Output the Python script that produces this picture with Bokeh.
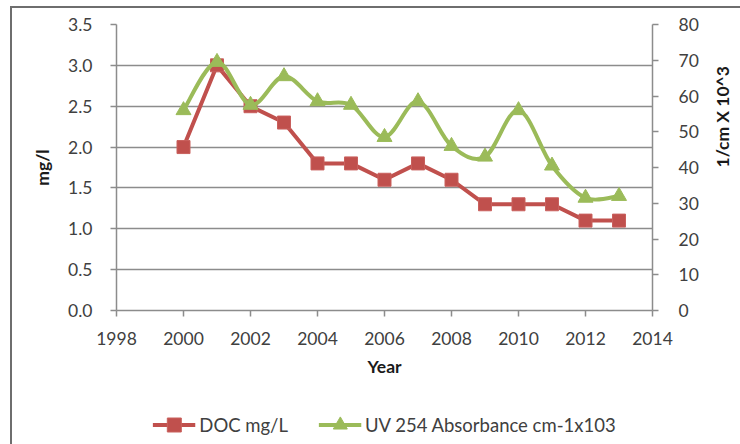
import math
from bokeh.plotting import figure
from bokeh.layouts import column
from bokeh.models import (Range1d, LinearAxis, SingleIntervalTicker, NumeralTickFormatter,
                          Legend, LegendItem)
from bokeh.embed import file_html
from bokeh.resources import INLINE

# ---- data ----
years = [2000, 2001, 2002, 2003, 2004, 2005, 2006, 2007, 2008, 2009, 2010, 2011, 2012, 2013]
doc_mg_l = [2.0, 3.0, 2.5, 2.3, 1.8, 1.8, 1.6, 1.8, 1.6, 1.3, 1.3, 1.3, 1.1, 1.1]
uv254 = [56.0, 69.5, 57.5, 65.5, 58.5, 57.5, 48.5, 58.5, 46.0, 43.0, 56.0, 40.5, 31.5, 32.0]

x_title = "Year"
left_title = "mg/l"
right_title = "1/cm X 10^3"
doc_label = "DOC mg/L"
uv_label = "UV 254 Absorbance cm-1x103"

RED = "#C0504D"
GREEN = "#9BBB59"
GRID = "#8c8c8c"
TXT = "#404040"
FONT = "Lato"
FS = "17.5px"
NAN = float("nan")

p = figure(frame_width=536, frame_height=286,
           min_border_left=104, min_border_right=88, min_border_top=16, min_border_bottom=80,
           x_range=Range1d(1998, 2014), y_range=Range1d(0, 3.5),
           output_backend="svg", toolbar_location=None,
           background_fill_color="white", border_fill_color="white",
           outline_line_color=None)

p.extra_y_ranges = {"uv": Range1d(0, 80)}

# axes
xt = SingleIntervalTicker(interval=2, num_minor_ticks=0)
yt = SingleIntervalTicker(interval=0.5, num_minor_ticks=0)
p.xaxis.ticker = xt
p.yaxis.ticker = yt
p.yaxis.formatter = NumeralTickFormatter(format="0.0")
p.xgrid.visible = False
p.ygrid.ticker = yt
p.ygrid.grid_line_color = GRID
p.ygrid.grid_line_width = 1.5

ax_r = LinearAxis(y_range_name="uv", ticker=SingleIntervalTicker(interval=10, num_minor_ticks=0),
                  formatter=NumeralTickFormatter(format="0"))
p.add_layout(ax_r, "right")

for ax in [p.xaxis[0], p.yaxis[0], ax_r]:
    ax.axis_line_color = GRID
    ax.axis_line_width = 1.5
    ax.major_tick_line_color = GRID
    ax.major_tick_line_width = 1.5
    ax.major_tick_out = 6
    ax.major_tick_in = 0
    ax.minor_tick_line_color = None
    ax.major_label_text_font = FONT
    ax.major_label_text_font_size = FS
    ax.major_label_text_color = TXT
    ax.axis_label_text_font = FONT
    ax.axis_label_text_font_size = FS
    ax.axis_label_text_font_style = "bold"
    ax.axis_label_text_color = "#1a1a1a"

p.xaxis[0].axis_label = x_title
p.xaxis[0].major_label_standoff = 15
p.xaxis[0].axis_label_standoff = 8
p.yaxis[0].axis_label = left_title
p.yaxis[0].major_label_standoff = 18
p.yaxis[0].axis_label_standoff = 12
ax_r.major_label_standoff = 20
ax_r.axis_label = right_title
ax_r.axis_label_standoff = 21
if hasattr(ax_r, "axis_label_orientation"):
    ax_r.axis_label_orientation = math.pi / 2

# DOC series (straight lines)
p.line(years, doc_mg_l, line_color=RED, line_width=4, line_join="round")
p.scatter(years, doc_mg_l, marker="square", size=13, fill_color=RED,
          line_color="#c9605d", line_width=1)

# UV series (smoothed curve, Catmull-Rom style control points from the data)
n = len(years)
bx0, by0, bx1, by1, cx0, cy0, cx1, cy1 = [], [], [], [], [], [], [], []
for i in range(n - 1):
    xa, ya = (years[i - 1], uv254[i - 1]) if i > 0 else (years[i], uv254[i])
    xb, yb = years[i], uv254[i]
    xc, yc = years[i + 1], uv254[i + 1]
    xd, yd = (years[i + 2], uv254[i + 2]) if i + 2 < n else (xc, yc)
    bx0.append(xb); by0.append(yb); bx1.append(xc); by1.append(yc)
    cx0.append(xb + (xc - xa) / 6.0); cy0.append(yb + (yc - ya) / 6.0)
    cx1.append(xc - (xd - xb) / 6.0); cy1.append(yc - (yd - yb) / 6.0)
p.bezier(x0=bx0, y0=by0, x1=bx1, y1=by1, cx0=cx0, cy0=cy0, cx1=cx1, cy1=cy1,
         line_color=GREEN, line_width=4, line_cap="round", y_range_name="uv")
p.scatter(years, uv254, marker="triangle", size=15, fill_color=GREEN,
          line_color=GREEN, line_width=1, y_range_name="uv")

# ---- legend strip (separate figure under the chart, same frame columns) ----
pl = figure(frame_width=536, frame_height=54,
            min_border_left=104, min_border_right=88, min_border_top=0, min_border_bottom=0,
            x_range=Range1d(0, 1), y_range=Range1d(0, 1),
            x_axis_type=None, y_axis_type=None,
            output_backend="svg", toolbar_location=None,
            background_fill_color="white", border_fill_color="white",
            outline_line_color=None)
pl.xgrid.visible = False
pl.ygrid.visible = False
# legend-key proxies (no drawable position; only their styles are shown in the legend)
k_doc_l = pl.line(x=[NAN], y=[NAN], line_color=RED, line_width=4)
k_doc_m = pl.scatter(x=[NAN], y=[NAN], marker="square", fill_color=RED,
                     line_color="#c9605d", line_width=1)
k_uv_l = pl.line(x=[NAN], y=[NAN], line_color=GREEN, line_width=4)
k_uv_m = pl.scatter(x=[NAN], y=[NAN], marker="triangle", fill_color=GREEN,
                    line_color=GREEN, line_width=1)

legend = Legend(items=[LegendItem(label=doc_label, renderers=[k_doc_l, k_doc_m]),
                       LegendItem(label=uv_label, renderers=[k_uv_l, k_uv_m])],
                location="top_center", orientation="horizontal",
                glyph_width=43, glyph_height=35, label_standoff=4, spacing=30,
                padding=0, margin=17, border_line_color=None, background_fill_alpha=0,
                label_text_font=FONT, label_text_font_size="18.5px", label_text_color=TXT)
pl.add_layout(legend)

layout = column(p, pl, spacing=0)
layout.styles = {"margin-left": "10px", "margin-top": "6px",
                 "border-left": "2px solid #6e6e6e", "border-top": "2px solid #6e6e6e"}

open("out.html", "w").write(file_html(layout, INLINE))
